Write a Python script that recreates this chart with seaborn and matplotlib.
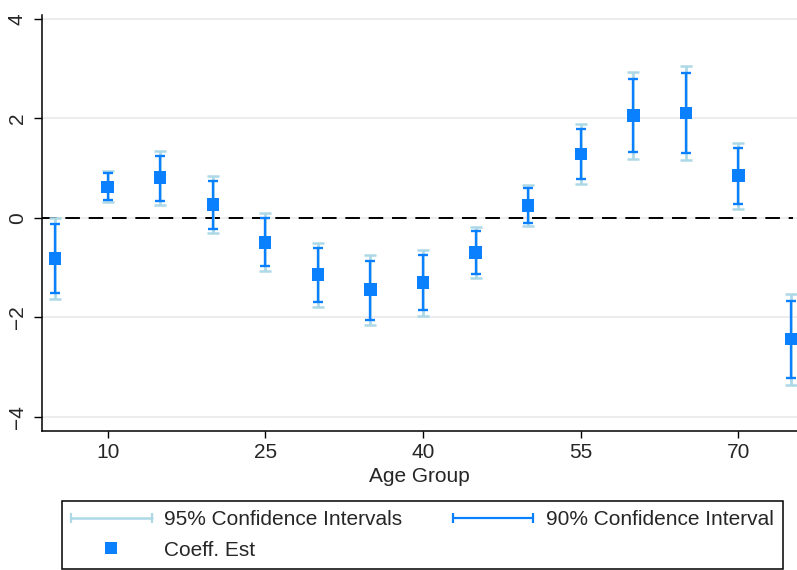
import matplotlib
matplotlib.use("Agg")
import matplotlib.pyplot as plt
from matplotlib.lines import Line2D
from matplotlib.legend_handler import HandlerLine2D
import seaborn as sns
import pandas as pd

ages = [5, 10, 15, 20, 25, 30, 35, 40, 45, 50, 55, 60, 65, 70, 75]
coef = [-0.82, 0.62, 0.81, 0.27, -0.50, -1.14, -1.44, -1.30, -0.70, 0.25, 1.28, 2.06, 2.11, 0.85, -2.44]
lo90 = [-1.51, 0.36, 0.34, -0.22, -0.98, -1.69, -2.05, -1.86, -1.13, -0.10, 0.79, 1.33, 1.31, 0.28, -3.22]
hi90 = [-0.13, 0.90, 1.25, 0.75, 0.00, -0.60, -0.86, -0.74, -0.26, 0.59, 1.79, 2.79, 2.91, 1.40, -1.68]
lo95 = [-1.64, 0.31, 0.26, -0.31, -1.07, -1.79, -2.16, -1.97, -1.21, -0.17, 0.68, 1.19, 1.16, 0.17, -3.37]
hi95 = [-0.01, 0.95, 1.34, 0.85, 0.09, -0.50, -0.74, -0.64, -0.18, 0.66, 1.89, 2.93, 3.05, 1.51, -1.53]
xticks = [10, 25, 40, 55, 70]
yticks = [-4, -2, 0, 2, 4]

BLUE = "#0a80ff"
LIGHT = "#add8e6"

df = pd.DataFrame({"age": ages, "coef": coef, "lo90": lo90, "hi90": hi90,
                   "lo95": lo95, "hi95": hi95})

sns.set_theme(style="white")
plt.rcParams["font.family"] = ["Liberation Sans", "DejaVu Sans"]

fig = plt.figure(figsize=(7.97, 5.70), dpi=100)
ax = fig.add_axes([42 / 797, 1 - 431 / 570, 1 - 42 / 797, (431 - 15) / 570])

# gridlines
for yv in yticks:
    ax.axhline(yv, color="#e8e8e8", lw=1.1, zorder=0)
ax.axhline(0, color="black", lw=1.4, ls=(0, (7.5, 4.5)), zorder=1,
           xmin=0, xmax=(75.2 - 3.764) / (75.57 - 3.764))

# 95% CI
ax.errorbar(df["age"], df["coef"],
            yerr=[df["coef"] - df["lo95"], df["hi95"] - df["coef"]],
            fmt="none", ecolor=LIGHT, elinewidth=2.0, capsize=4.0,
            capthick=1.8, zorder=2)
# 90% CI
ax.errorbar(df["age"], df["coef"],
            yerr=[df["coef"] - df["lo90"], df["hi90"] - df["coef"]],
            fmt="none", ecolor=BLUE, elinewidth=1.7, capsize=3.4,
            capthick=1.7, zorder=3)
# coefficients
sns.scatterplot(data=df, x="age", y="coef", marker="s", s=80, color=BLUE,
                edgecolor="none", linewidth=0, ax=ax, zorder=4, legend=False)

ax.set_xlim(3.764, 75.57)
ax.set_ylim(-4.29, 4.08)
ax.set_xticks(xticks)
ax.set_xticklabels([str(v) for v in xticks])
ax.set_yticks(yticks)
ax.set_yticklabels([f"{v:d}".replace("-", "\u2212") for v in yticks],
                   rotation=90, va="center")
ax.tick_params(axis="both", labelsize=15, direction="out", color="black",
               width=1.0, bottom=True, left=True)
ax.tick_params(axis="x", length=5, pad=4)
ax.tick_params(axis="y", length=6, pad=5)
ax.set_xlabel("Age Group", fontsize=15, labelpad=3)
ax.set_ylabel("")
for side in ["top", "right"]:
    ax.spines[side].set_visible(False)
for side in ["left", "bottom"]:
    ax.spines[side].set_color("black")
    ax.spines[side].set_linewidth(1.1)

# legend
h95 = Line2D([0], [0], color=LIGHT, lw=1.8, marker="|", markersize=7,
             markeredgewidth=1.6)
h90 = Line2D([0], [0], color=BLUE, lw=1.6, marker="|", markersize=7,
             markeredgewidth=1.6)
hco = Line2D([0], [0], color=BLUE, ls="none", marker="s", markersize=8.4,
             markeredgewidth=0)
leg = fig.legend([h95, hco, h90],
                 ["95% Confidence Intervals", "Coeff. Est", "90% Confidence Interval"],
                 handler_map={h95: HandlerLine2D(numpoints=2, marker_pad=0),
                              h90: HandlerLine2D(numpoints=2, marker_pad=0)},
                 ncol=2, loc="lower left",
                 bbox_to_anchor=(62 / 797, 1 / 570),
                 fontsize=15, frameon=True, fancybox=False,
                 edgecolor="black", framealpha=1, borderpad=0.45,
                 labelspacing=0.55, handlelength=3.85, handletextpad=0.62,
                 columnspacing=2.4, borderaxespad=0)
leg.get_frame().set_linewidth(1.1)

fig.savefig("out.png", dpi=100)
